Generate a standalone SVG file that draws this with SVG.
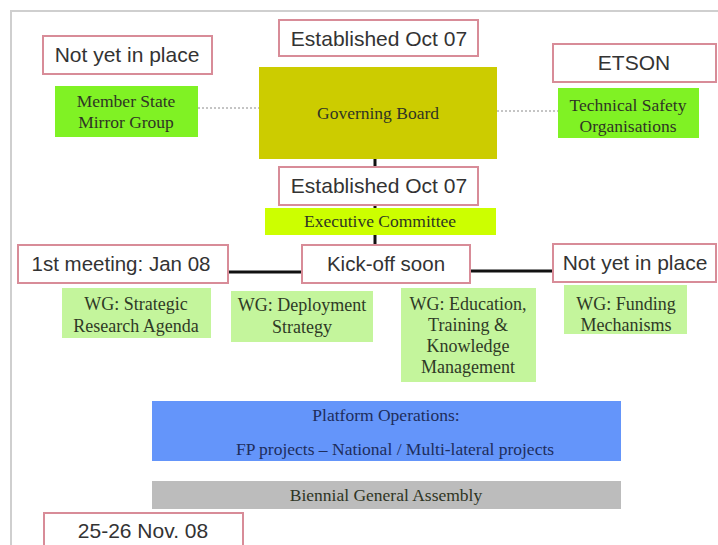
<svg xmlns="http://www.w3.org/2000/svg" width="718" height="545" viewBox="0 0 718 545">
  <style>
    .tag { fill: #ffffff; stroke: #d88c98; stroke-width: 2; }
    .tagText { font-family: "Liberation Sans", Arial, sans-serif; font-size: 21px; fill: #333333; text-anchor: middle; }
    .body { font-family: "Liberation Serif", "Times New Roman", serif; font-size: 17.5px; fill: #2f3524; text-anchor: middle; }
    .wg { fill: #c4f59c; }
    .wgText { font-family: "Liberation Serif", "Times New Roman", serif; font-size: 18px; fill: #2f3a26; text-anchor: middle; }
    .link { stroke: #111111; stroke-width: 3; fill: none; }
    .dotted { stroke: #8a8a8a; stroke-width: 1; stroke-dasharray: 2 2; fill: none; }
  </style>

  <rect width="718" height="545" fill="#ffffff"/>
  <!-- page frame -->
  <path d="M11,545 V11 H718" fill="none" stroke="#cfcfcf" stroke-width="2"/>

  <g id="connectors">
    <line class="dotted" x1="198" y1="108" x2="259" y2="108"/>
    <line class="dotted" x1="497" y1="111" x2="558" y2="111"/>
    <line class="link" x1="375" y1="159" x2="375" y2="167"/>
    <line class="link" x1="375" y1="205" x2="375" y2="208"/>
    <line class="link" x1="375" y1="235" x2="375" y2="245"/>
    <line class="link" x1="228" y1="272" x2="302" y2="272"/>
    <line class="link" x1="470" y1="271" x2="553" y2="271"/>
  </g>

  <g id="status-mirror">
    <rect class="tag" x="43" y="36" width="169" height="38"/>
    <text class="tagText" x="127" y="62">Not yet in place</text>
  </g>
  <g id="mirror-group">
    <rect x="55" y="86" width="143" height="51" fill="#80f224"/>
    <text class="body" x="126" y="107">Member State</text>
    <text class="body" x="126" y="128">Mirror Group</text>
  </g>

  <g id="status-board">
    <rect class="tag" x="279" y="20" width="199" height="36"/>
    <text class="tagText" x="379" y="46">Established Oct 07</text>
  </g>
  <g id="governing-board">
    <rect x="259" y="67" width="238" height="92" fill="#cccc00"/>
    <text class="body" x="378" y="119">Governing Board</text>
  </g>

  <g id="status-etson">
    <rect class="tag" x="553" y="44" width="163" height="38"/>
    <text class="tagText" x="634" y="70">ETSON</text>
  </g>
  <g id="tso">
    <rect x="558" y="88" width="141" height="50" fill="#80f224"/>
    <text class="body" x="628" y="111">Technical Safety</text>
    <text class="body" x="628" y="132">Organisations</text>
  </g>

  <g id="status-executive">
    <rect class="tag" x="279" y="167" width="199" height="38"/>
    <text class="tagText" x="379" y="193">Established Oct 07</text>
  </g>
  <g id="executive-committee">
    <rect x="265" y="208" width="231" height="27" fill="#ccff00"/>
    <text class="body" x="380" y="227">Executive Committee</text>
  </g>

  <g id="status-sra">
    <rect class="tag" x="18" y="245" width="210" height="38"/>
    <text class="tagText" x="121" y="271" style="font-size:20.5px">1st meeting: Jan 08</text>
  </g>
  <g id="status-kickoff">
    <rect class="tag" x="302" y="245" width="168" height="38"/>
    <text class="tagText" x="386" y="271" style="font-size:20.5px">Kick-off soon</text>
  </g>
  <g id="status-funding">
    <rect class="tag" x="553" y="244" width="163" height="38"/>
    <text class="tagText" x="635" y="270">Not yet in place</text>
  </g>

  <g id="wg-sra">
    <rect class="wg" x="62" y="288" width="149" height="50"/>
    <text class="wgText" x="136" y="310">WG: Strategic</text>
    <text class="wgText" x="136" y="332">Research Agenda</text>
  </g>
  <g id="wg-deployment">
    <rect class="wg" x="231" y="291" width="142" height="51"/>
    <text class="wgText" x="302" y="311">WG: Deployment</text>
    <text class="wgText" x="302" y="333">Strategy</text>
  </g>
  <g id="wg-education">
    <rect class="wg" x="401" y="288" width="135" height="94"/>
    <text class="wgText" x="468" y="310">WG: Education,</text>
    <text class="wgText" x="468" y="331">Training &amp;</text>
    <text class="wgText" x="468" y="352">Knowledge</text>
    <text class="wgText" x="468" y="373">Management</text>
  </g>
  <g id="wg-funding">
    <rect class="wg" x="564" y="285" width="123" height="49"/>
    <text class="wgText" x="626" y="310">WG: Funding</text>
    <text class="wgText" x="626" y="331">Mechanisms</text>
  </g>

  <g id="platform-operations">
    <rect x="152" y="401" width="469" height="60" fill="#6495fa"/>
    <text class="body" x="386" y="421" style="fill:#1e2d5c">Platform Operations:</text>
    <text class="body" x="395" y="455" style="fill:#1e2d5c">FP projects – National / Multi-lateral projects</text>
  </g>

  <g id="general-assembly">
    <rect x="152" y="481" width="469" height="28" fill="#bcbcbc"/>
    <text class="body" x="386" y="501">Biennial General Assembly</text>
  </g>

  <g id="status-assembly">
    <rect class="tag" x="44" y="513" width="199" height="40"/>
    <text class="tagText" x="143" y="538">25-26 Nov. 08</text>
  </g>
</svg>
